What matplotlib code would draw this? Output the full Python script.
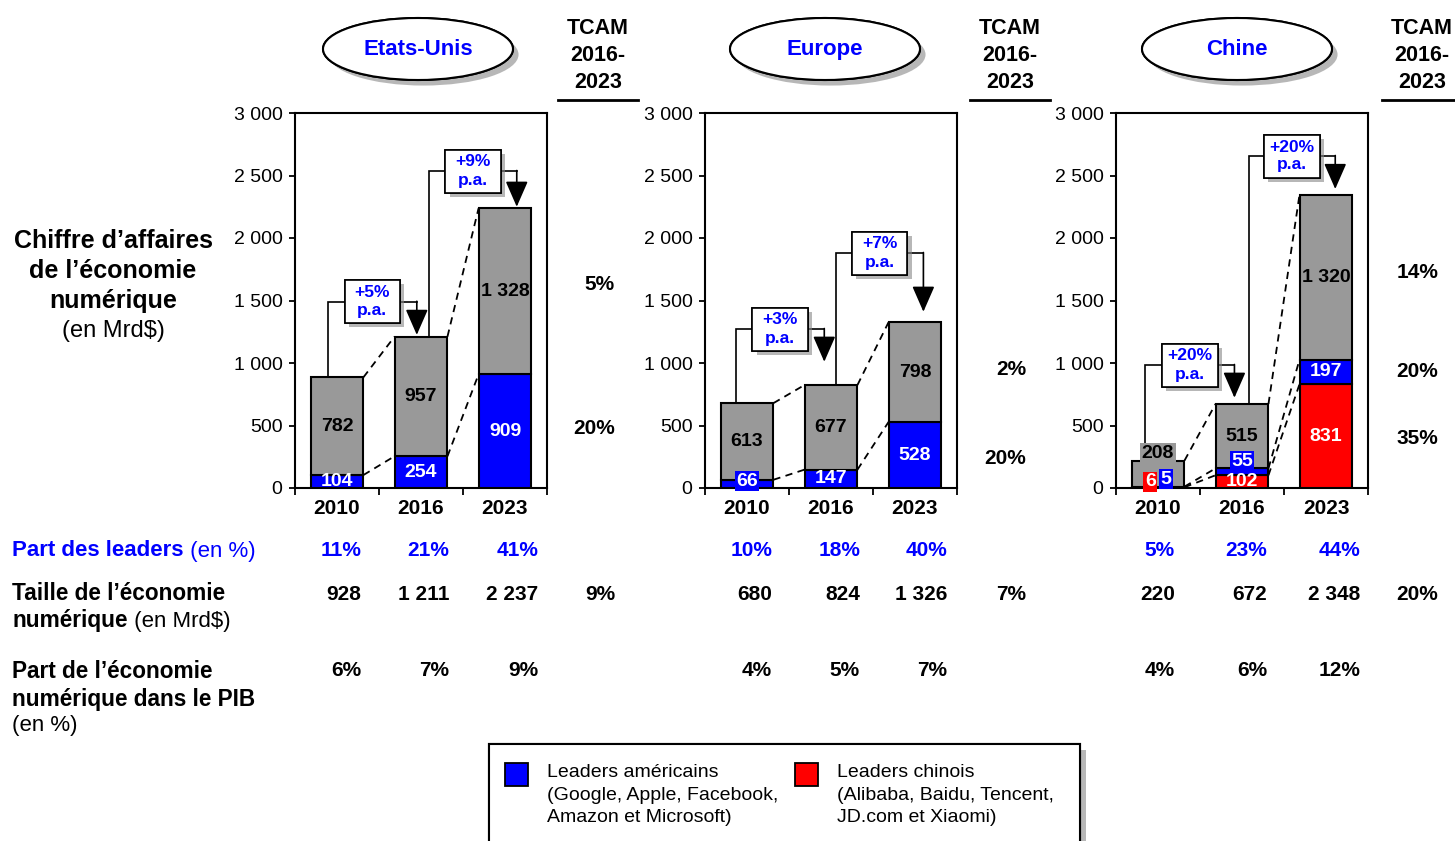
import matplotlib
matplotlib.use('Agg')
import matplotlib.pyplot as plt
import matplotlib.patches as mpatches
import matplotlib.patheffects as pe
from matplotlib.ticker import FuncFormatter

plt.rcParams['font.family'] = ['Liberation Sans', 'DejaVu Sans']

# --- data ---
years = ['2010', '2016', '2023']
us_leaders = [104, 254, 909]
us_rest = [782, 957, 1328]
eu_leaders = [66, 147, 528]
eu_rest = [613, 677, 798]
cn_chinese = [6, 102, 831]
cn_leaders = [5, 55, 197]
cn_rest = [208, 515, 1320]

regions = ['Etats-Unis', 'Europe', 'Chine']
growth_us = ['+5%', '+9%']
growth_eu = ['+3%', '+7%']
growth_cn = ['+20%', '+20%']

tcam_us = ['5%', '20%']
tcam_eu = ['2%', '20%']
tcam_cn = ['14%', '20%', '35%']

leaders_us = ['11%', '21%', '41%']
leaders_eu = ['10%', '18%', '40%']
leaders_cn = ['5%', '23%', '44%']
size_us = ['928', '1 211', '2 237']
size_eu = ['680', '824', '1 326']
size_cn = ['220', '672', '2 348']
size_tcam = ['9%', '7%', '20%']
gdp_us = ['6%', '7%', '9%']
gdp_eu = ['4%', '5%', '7%']
gdp_cn = ['4%', '6%', '12%']

GREY = '#999999'
BLUE = '#0000ff'
RED = '#ff0000'
W, H = 1455, 841

fig = plt.figure(figsize=(W / 100, H / 100), dpi=100)
ov = fig.add_axes([0, 0, 1, 1], zorder=0)
ov.set_xlim(0, W)
ov.set_ylim(H, 0)
ov.axis('off')

shadow = [pe.withSimplePatchShadow(offset=(4, -4), shadow_rgbFace='#888888', alpha=0.6), pe.Normal()]


def fmt(v):
    return f"{v:,}".replace(',', ' ')


def make_ax(left_px):
    ax = fig.add_axes([left_px / W, (H - 488) / H, 252 / W, 375 / H], zorder=1)
    ax.set_xlim(-0.5, 2.5)
    ax.set_ylim(0, 3000)
    ax.set_yticks(range(0, 3001, 500))
    ax.yaxis.set_major_formatter(FuncFormatter(lambda v, p: fmt(int(v))))
    ax.set_xticks([0, 1, 2])
    ax.set_xticklabels(years, fontweight='bold', fontsize=15)
    ax.set_xticks([-0.5, 0.5, 1.5, 2.5], minor=True)
    ax.tick_params(axis='x', which='major', length=0, pad=8)
    ax.tick_params(axis='x', which='minor', length=5, width=1.3, direction='out')
    ax.tick_params(axis='y', length=4, width=1.3, direction='out', labelsize=14, pad=5)
    for s in ax.spines.values():
        s.set_linewidth(1.5)
    return ax


def stack(ax, segments, colors, overrides):
    x = [0, 1, 2]
    bottom = [0, 0, 0]
    tops = []
    for k, (seg, col) in enumerate(zip(segments, colors)):
        ax.bar(x, seg, bottom=bottom, width=0.63, color=col, edgecolor='black',
               linewidth=1.5, zorder=3)
        tc = 'black' if col == GREY else 'white'
        for i in x:
            xp, yp, box = i, bottom[i] + seg[i] / 2, None
            if (k, i) in overrides:
                dx, yp, box = overrides[(k, i)]
                xp = i + dx
            kw = {}
            if box:
                kw['bbox'] = dict(boxstyle='square,pad=0.08', fc=box, ec='none')
            ax.text(xp, yp, fmt(seg[i]), ha='center', va='center', color=tc,
                    fontweight='bold', fontsize=14, zorder=6, **kw)
        bottom = [b + s for b, s in zip(bottom, seg)]
        tops.append(list(bottom))
    # dashed connectors
    for lvl in tops:
        for i in range(2):
            ax.plot([i + 0.315, i + 1 - 0.315], [lvl[i], lvl[i + 1]], color='black',
                    lw=1.3, ls=(0, (4, 3)), zorder=2)
    return tops[-1]


def bracket(ax, i, total, level, tip, dx0, dx1, label):
    x0 = i + dx0
    x1 = i + 1 + dx1
    ax.plot([x0, x0, x1], [total[i], level, level], color='black', lw=1.2, zorder=4,
            solid_joinstyle='miter')
    ax.annotate('', xy=(x1, tip), xytext=(x1, level + 4),
                arrowprops=dict(arrowstyle='-|>,head_length=0.8,head_width=0.35',
                                mutation_scale=20, color='black', lw=1.2,
                                shrinkA=0, shrinkB=0), zorder=4)
    xc = (x0 + x1) / 2
    r = mpatches.Rectangle((xc - 0.33, level - 172), 0.66, 344, fc='white', ec='black',
                           lw=1.2, zorder=5)
    r.set_path_effects([pe.withSimplePatchShadow(offset=(3, -3), shadow_rgbFace='#888888',
                                                 alpha=0.6), pe.Normal()])
    ax.add_patch(r)
    ax.text(xc, level, label + '\np.a.', ha='center', va='center', color=BLUE,
            fontweight='bold', fontsize=12.5, linespacing=1.25, zorder=6)


# --- Etats-Unis ---
ax1 = make_ax(295)
tot = stack(ax1, [us_leaders, us_rest], [BLUE, GREY], {})
bracket(ax1, 0, tot, 1490, 1225, -0.11, -0.05, growth_us[0])
bracket(ax1, 1, tot, 2536, 2250, 0.10, 0.14, growth_us[1])

# --- Europe ---
ax2 = make_ax(705)
tot = stack(ax2, [eu_leaders, eu_rest], [BLUE, GREY], {(0, 0): (0, 56, BLUE)})
bracket(ax2, 0, tot, 1272, 1010, -0.13, -0.08, growth_eu[0])
bracket(ax2, 1, tot, 1880, 1410, 0.06, 0.10, growth_eu[1])

# --- Chine ---
ax3 = make_ax(1116)
tot = stack(ax3, [cn_chinese, cn_leaders, cn_rest], [RED, BLUE, GREY],
            {(0, 0): (-0.09, 48, RED), (1, 0): (0.09, 72, BLUE), (2, 0): (0, 280, GREY),
             (0, 1): (0, 48, None), (1, 1): (0, 216, BLUE)})
bracket(ax3, 0, tot, 984, 722, -0.15, -0.09, growth_cn[0])
bracket(ax3, 1, tot, 2656, 2392, 0.08, 0.11, growth_cn[1])

# --- titles (ellipses) and TCAM headers ---
for cx, name in zip([418, 825, 1237], regions):
    e = mpatches.Ellipse((cx, 49), 190, 62, fc='white', ec='black', lw=1.5)
    e.set_path_effects(shadow)
    ov.add_patch(e)
    ov.text(cx, 49, name, ha='center', va='center', color=BLUE, fontweight='bold', fontsize=16)

for cx in [598, 1010, 1422]:
    ov.text(cx, 55.5, 'TCAM\n2016-\n2023', ha='center', va='center', fontweight='bold',
            fontsize=15.5, linespacing=1.38)
    ov.plot([cx - 40, cx + 40], [100, 100], color='black', lw=2)

# TCAM values next to the charts
for rx, vals, ys in [(615, tcam_us, [285, 428]), (1026, tcam_eu, [369, 458]),
                     (1438, tcam_cn, [273, 371, 438])]:
    for v, y in zip(vals, ys):
        ov.text(rx, y, v, ha='right', va='center', fontweight='bold', fontsize=15)

# --- left labels ---
ov.text(113, 271, 'Chiffre d’affaires\nde l’économie\nnumérique', ha='center', va='center',
        fontweight='bold', fontsize=18, linespacing=1.33)
ov.text(113, 331, '(en Mrd$)', ha='center', va='center', fontsize=17)

t = ov.text(12, 551, 'Part des leaders', ha='left', va='center', color=BLUE,
            fontweight='bold', fontsize=16)
ov.annotate(' (en %)', xy=(1, 0), xycoords=t, ha='left', va='bottom', color=BLUE, fontsize=16)
ov.text(12, 594, 'Taille de l’économie', ha='left', va='center', fontweight='bold', fontsize=16.3)
t = ov.text(12, 621, 'numérique', ha='left', va='center', fontweight='bold', fontsize=16.3)
ov.annotate(' (en Mrd$)', xy=(1, 0), xycoords=t, ha='left', va='bottom', fontsize=16)
ov.text(12, 685.5, 'Part de l’économie\nnumérique dans le PIB', ha='left', va='center',
        fontweight='bold', fontsize=16.3, linespacing=1.3)
ov.text(12, 725, '(en %)', ha='left', va='center', fontsize=16)

# --- table rows ---
cols = [[361, 449.5, 538.5], [772, 860, 947], [1175, 1267, 1360]]
for c, vals in zip(cols, [leaders_us, leaders_eu, leaders_cn]):
    for x, v in zip(c, vals):
        ov.text(x, 550, v, ha='right', va='center', color=BLUE, fontweight='bold', fontsize=15)
for c, vals in zip(cols, [size_us, size_eu, size_cn]):
    for x, v in zip(c, vals):
        ov.text(x, 594, v, ha='right', va='center', fontweight='bold', fontsize=15)
for x, v in zip([615, 1026, 1438], size_tcam):
    ov.text(x, 594, v, ha='right', va='center', fontweight='bold', fontsize=15)
for c, vals in zip(cols, [gdp_us, gdp_eu, gdp_cn]):
    for x, v in zip(c, vals):
        ov.text(x, 671, v, ha='right', va='center', fontweight='bold', fontsize=15)

# --- legend ---
lg = mpatches.Rectangle((489, 744), 591, 130, fc='white', ec='black', lw=1.5)
lg.set_path_effects(shadow)
ov.add_patch(lg)
for x0, col, lines in [(505, BLUE, 'Leaders américains\n(Google, Apple, Facebook,\nAmazon et Microsoft)'),
                       (795, RED, 'Leaders chinois\n(Alibaba, Baidu, Tencent,\nJD.com et Xiaomi)')]:
    ov.add_patch(mpatches.Rectangle((x0, 763), 23, 23, fc=col, ec='black', lw=1.3))
    ov.text(x0 + 42, 795, lines, ha='left', va='center', fontsize=14, linespacing=1.42)

fig.savefig('out.png', dpi=100)
